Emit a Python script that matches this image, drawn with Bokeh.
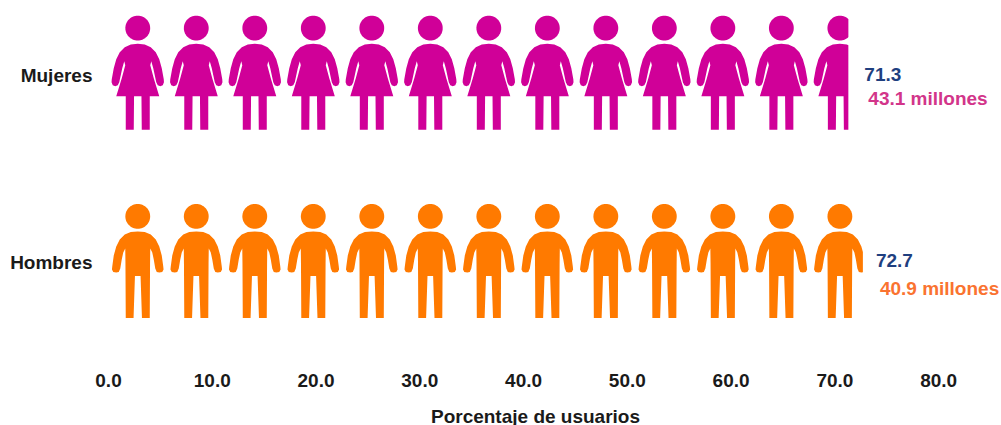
import math
from bokeh.plotting import figure
from bokeh.models import Range1d, FixedTicker, ColumnDataSource, NumeralTickFormatter
from bokeh.core.properties import value
from bokeh.embed import file_html
from bokeh.resources import INLINE

# ---- data ----
categories = ["Hombres", "Mujeres"]
percentages = [72.7, 71.3]
millions = [40.9, 43.1]
x_ticks = [0, 10, 20, 30, 40, 50, 60, 70, 80]

# ---- style ----
FONT = "Liberation Sans"
FS = "19px"
COLORS = {"Hombres": "#FF7A00", "Mujeres": "#D00098"}
MILL_COLORS = {"Hombres": "#FA7330", "Mujeres": "#D2358A"}
BLUE = "#1F3F7F"
PX_X = 10.375   # pixels per percent
PX_Y = 187.0    # pixels per category step
UNIT = 58.5 / PX_X  # percent covered by one pictogram


def mirror(half):
    """half: (dx, dy) px from centre/top going down the right side, ending at the centre."""
    return [(dx, dy) for dx, dy in half] + [(-dx, dy) for dx, dy in reversed(half)]


woman = [
    (0, 28.5), (7, 29.3), (13, 32), (18, 37), (21.5, 44), (24, 53), (26, 64), (26.2, 67),
    (25, 70), (22.5, 71), (20, 70), (18.5, 67), (17, 60), (15.5, 53), (13.5, 46),
    (12.5, 50), (16, 63), (21.5, 81), (12, 81), (12, 114.5), (4, 114.5), (3.7, 81), (0, 81),
]
man = [
    (0, 28), (7, 28.6), (13, 31), (18, 36), (21.5, 43), (24, 52), (25.5, 63), (25.8, 66),
    (24.5, 68.5), (21.5, 69), (19, 68.5), (17.5, 65), (16, 56), (14.5, 49), (12.5, 45),
    (12.3, 60), (12, 114.5), (4.2, 114.5), (2.8, 72.5), (0, 72.5),
]
BODIES = {"Mujeres": mirror(woman), "Hombres": mirror(man)}
TOPS = {"Mujeres": -60.3, "Hombres": -59.0}   # px from category centre to figure top
HEAD_R, HEAD_Y = 12.4, 12.9
HEAD = [(HEAD_R * math.cos(2 * math.pi * i / 60), HEAD_Y + HEAD_R * math.sin(2 * math.pi * i / 60)) for i in range(60)]


def clip_right(pts, limit):
    out = []
    for i, (x1, y1) in enumerate(pts):
        x0, y0 = pts[i - 1]
        if (x0 <= limit) != (x1 <= limit):
            t = (limit - x0) / (x1 - x0)
            out.append((limit, y0 + t * (y1 - y0)))
        if x1 <= limit:
            out.append((x1, y1))
    return out


xs, ys, fills = [], [], []
for pos, (cat, val) in enumerate(zip(categories, percentages)):
    for k in range(math.ceil(val / UNIT)):
        cx = (k + 0.5) * UNIT
        for shape in (HEAD, BODIES[cat]):
            pts = [(cx + dx / PX_X, pos - (TOPS[cat] + dy) / PX_Y) for dx, dy in shape]
            pts = clip_right(pts, val)
            if pts:
                xs.append([a for a, _ in pts])
                ys.append([b for _, b in pts])
                fills.append(COLORS[cat])

p = figure(
    width=1001, height=430, output_backend="svg", toolbar_location=None,
    x_range=Range1d(0, 82.3),
    y_range=Range1d(-(340 - 262) / PX_Y, 1 + 75 / PX_Y),
    min_border_left=108, min_border_right=39, min_border_top=0, min_border_bottom=90,
    outline_line_color=None, background_fill_color="white", border_fill_color="white",
)
p.grid.visible = False
p.patches(xs, ys, fill_color=fills, line_color=None)

for ax in (p.xaxis[0], p.yaxis[0]):
    ax.axis_line_color = None
    ax.major_tick_line_color = None
    ax.minor_tick_line_color = None
    ax.major_label_text_font = FONT
    ax.major_label_text_font_style = "bold"
    ax.major_label_text_font_size = FS
    ax.major_label_text_color = "#1a1a1a"

p.xaxis[0].ticker = FixedTicker(ticks=x_ticks)
p.xaxis[0].formatter = NumeralTickFormatter(format="0.0")
p.xaxis[0].major_label_standoff = 27
p.xaxis[0].axis_label = "Porcentaje de usuarios"
p.xaxis[0].axis_label_text_font = FONT
p.xaxis[0].axis_label_text_font_style = "bold"
p.xaxis[0].axis_label_text_font_size = FS
p.xaxis[0].axis_label_text_color = "#1a1a1a"
p.xaxis[0].axis_label_standoff = 16

p.yaxis[0].ticker = FixedTicker(ticks=list(range(len(categories))))
p.yaxis[0].major_label_overrides = {i: c for i, c in enumerate(categories)}
p.yaxis[0].major_label_standoff = 10

src = ColumnDataSource(dict(
    x=percentages,
    y=list(range(len(categories))),
    pct=[f"{v:.1f}" for v in percentages],
    mil=[f"{v:.1f} millones" for v in millions],
    mc=[MILL_COLORS[c] for c in categories],
    dx=[13, 16],
    dx2=[17, 20],
    dy=[-2, -1],
    dy2=[26, 23],
))
common = dict(source=src, x="x", y="y", text_font=value(FONT), text_font_style="bold",
              text_font_size=value(FS), text_baseline="middle", text_align="left", level="overlay")
p.text(text="pct", text_color=BLUE, x_offset="dx", y_offset="dy", **common)
p.text(text="mil", text_color="mc", x_offset="dx2", y_offset="dy2", **common)

open("out.html", "w").write(file_html(p, INLINE))
